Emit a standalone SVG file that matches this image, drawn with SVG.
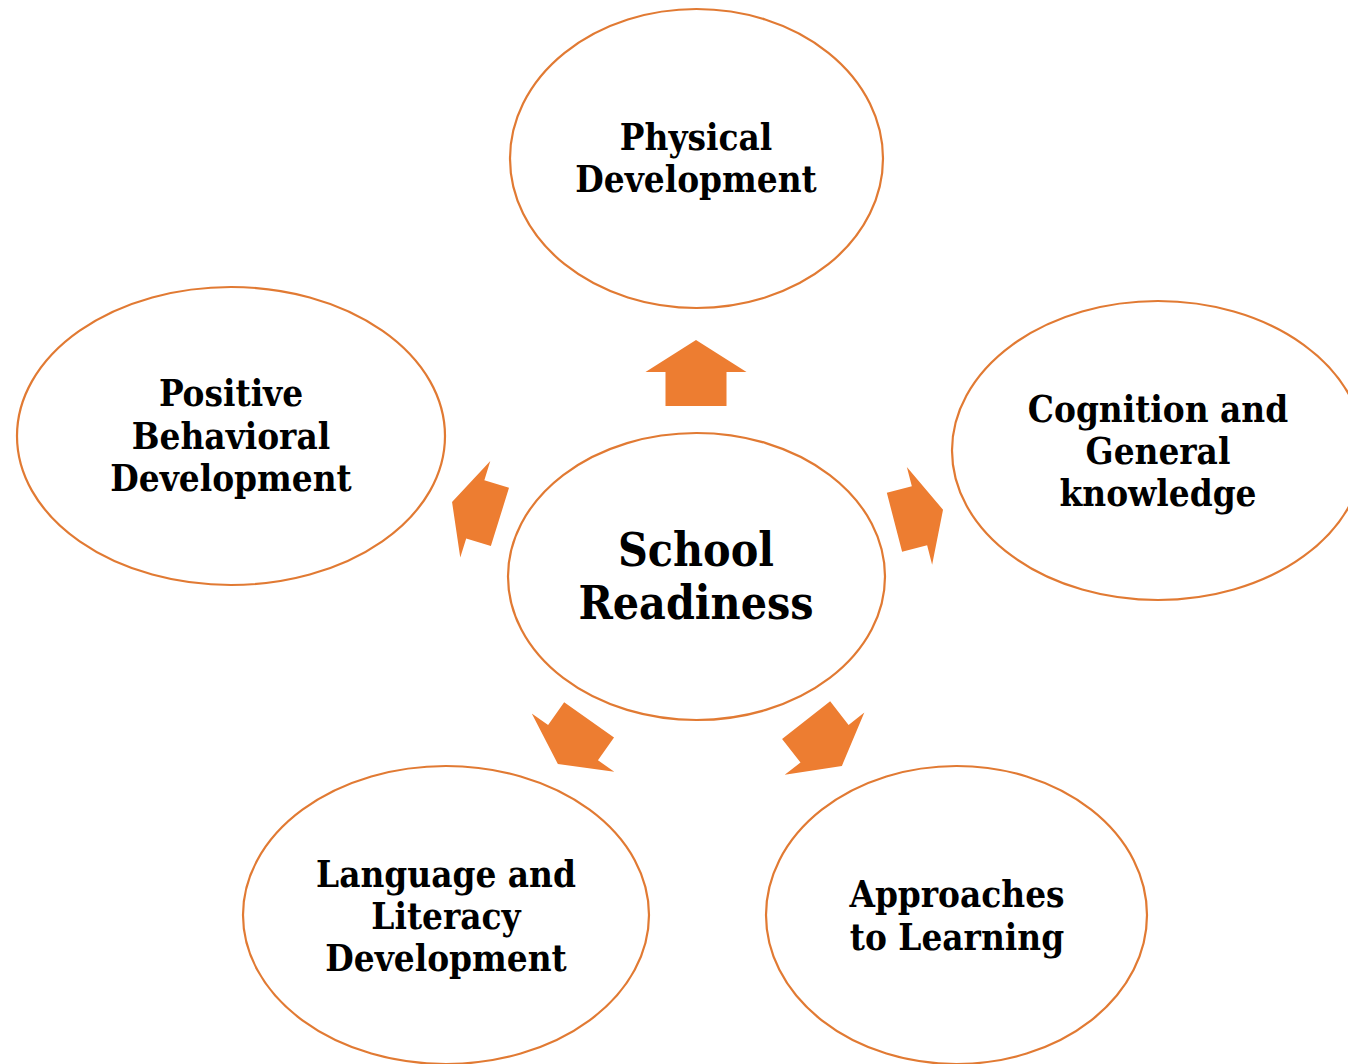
<svg xmlns="http://www.w3.org/2000/svg" width="1348" height="1064" viewBox="0 0 1348 1064">
  <style>
    .node { fill: #FFFFFF; stroke: #E17A33; stroke-width: 2.2; }
    .lbl { font-family: "DejaVu Serif", "Liberation Serif", serif; font-stretch: condensed; font-weight: bold; font-size: 36.5px; fill: #000000; text-anchor: middle; }
    .big { font-size: 46px; }
    .arrow { fill: #ED7D31; }
  </style>
  <defs>
    <path id="arr" d="M0,-33 L50.5,-1 L30.5,-1 L30.5,33 L-30.5,33 L-30.5,-1 L-50.5,-1 Z"/>
  </defs>
  <rect width="1348" height="1064" fill="#FFFFFF"/>
  <g id="connectors" class="arrow">
    <use href="#arr" transform="translate(696,373)"/>
    <use href="#arr" transform="translate(476,509.5) rotate(-72.7) scale(1,0.76)"/>
    <use href="#arr" transform="translate(918.75,516) rotate(75.5) scale(1,0.76)"/>
    <use href="#arr" transform="translate(573.5,742) rotate(-144.8) scale(1,0.82)"/>
    <use href="#arr" transform="translate(824,743) rotate(142) scale(1,0.88)"/>
  </g>
  <g id="node-physical">
    <ellipse class="node" cx="696.5" cy="158.5" rx="186.5" ry="149.5"/>
    <text class="lbl" x="696" y="150">Physical</text>
    <text class="lbl" x="696" y="192">Development</text>
  </g>
  <g id="node-positive">
    <ellipse class="node" cx="231" cy="436" rx="214" ry="149"/>
    <text class="lbl" x="231" y="406">Positive</text>
    <text class="lbl" x="231" y="449">Behavioral</text>
    <text class="lbl" x="231" y="491">Development</text>
  </g>
  <g id="node-cognition">
    <ellipse class="node" cx="1158" cy="450.5" rx="206" ry="149.5"/>
    <text class="lbl" x="1158" y="422">Cognition and</text>
    <text class="lbl" x="1158" y="464">General</text>
    <text class="lbl" x="1158" y="506">knowledge</text>
  </g>
  <g id="node-language">
    <ellipse class="node" cx="446" cy="915" rx="203" ry="149"/>
    <text class="lbl" x="446" y="887">Language and</text>
    <text class="lbl" x="446" y="929">Literacy</text>
    <text class="lbl" x="446" y="971">Development</text>
  </g>
  <g id="node-approaches">
    <ellipse class="node" cx="956.5" cy="915" rx="190.5" ry="149"/>
    <text class="lbl" x="957" y="907">Approaches</text>
    <text class="lbl" x="957" y="950">to Learning</text>
  </g>
  <g id="node-school">
    <ellipse class="node" cx="696.5" cy="576.5" rx="188.5" ry="143.5"/>
    <text class="lbl big" x="696" y="566">School</text>
    <text class="lbl big" x="696" y="619">Readiness</text>
  </g>
</svg>
